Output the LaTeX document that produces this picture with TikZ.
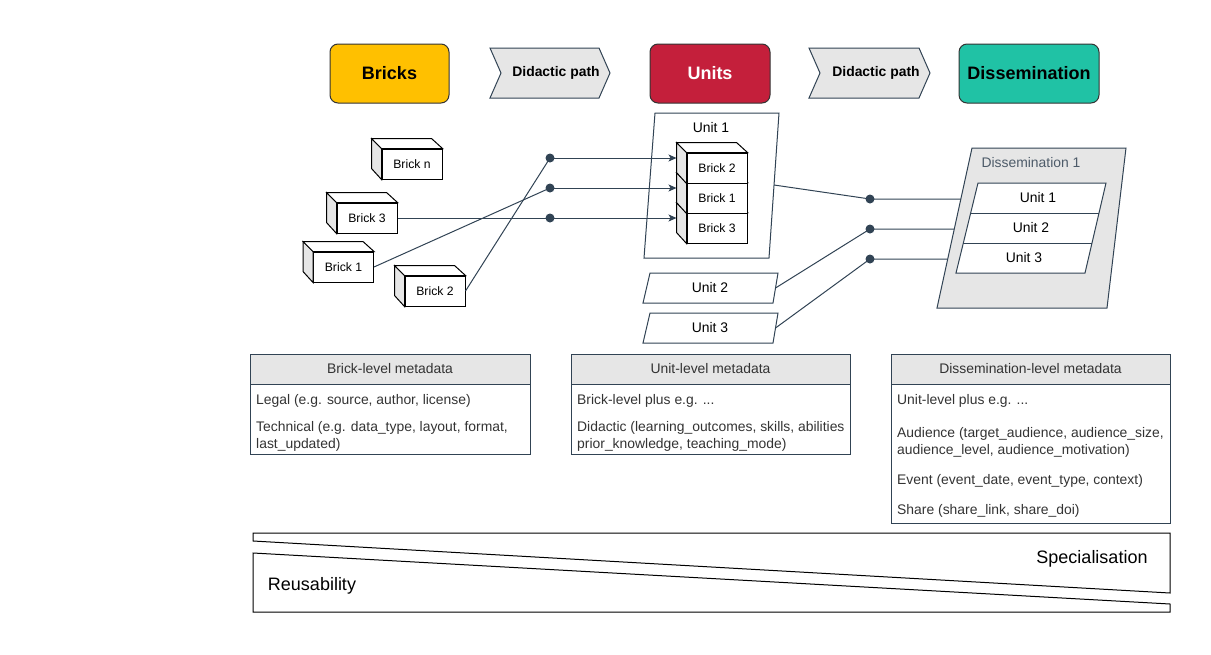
\documentclass[tikz,border=0pt]{standalone}
\usepackage{fontspec}
\setmainfont{Liberation Sans}
\usetikzlibrary{calc,arrows.meta}
\definecolor{slate}{HTML}{314354}
\definecolor{boxgray}{HTML}{E6E6E6}
\definecolor{sidegray}{HTML}{E6E6E6}
\definecolor{txtgray}{HTML}{333333}
\definecolor{brickyellow}{HTML}{FFC000}
\definecolor{unitred}{HTML}{C41F3B}
\definecolor{dissteal}{HTML}{20C2A5}
\definecolor{disstxt}{HTML}{4D5B69}
\tikzset{
  brickface/.style={draw=black, line width=1, fill=white, minimum width=60, minimum height=30, inner sep=0, font=\fontsize{12.2}{14}\selectfont},
  brickline/.style={draw=black, line width=1},
  headbox/.style={draw=black!80, line width=1, rounded corners=8, minimum width=119, minimum height=59, inner sep=0, font=\bfseries\fontsize{18}{21}\selectfont},
  chev/.style={draw=slate, line width=1, fill=boxgray},
  chevtxt/.style={font=\bfseries\fontsize{13.9}{16}\selectfont, inner sep=0},
  conn/.style={draw=slate, line width=1},
  dot/.style={circle, fill=slate, inner sep=0, minimum size=9},
  utxt/.style={font=\fontsize{13.9}{16}\selectfont, inner sep=0},
  mtxt/.style={font=\fontsize{13.9}{16}\selectfont, text=txtgray, inner sep=0, anchor=base west},
  mhead/.style={font=\fontsize{13.9}{16}\selectfont, text=txtgray, inner sep=0},
  mbox/.style={draw=slate, line width=1},
  bigtxt/.style={font=\fontsize{18}{21}\selectfont, inner sep=0},
}
\newcommand{\mybrick}[4]{%
  \node[brickface] (#1) at (#2,#3) {#4};
  \draw[brickline,fill=sidegray] (#1.north west) -- ++(-10,-10) -- ++(0,30) -- (#1.south west) -- cycle;
  \draw[brickline,fill=white] (#1.north west) -- ++(-10,-10) -- ++(60,0) -- (#1.north east) -- cycle;
  \coordinate (#1side) at ($(#1.west)+(-10,-10)$);
}
\begin{document}
\begin{tikzpicture}[x=1pt,y=-1pt]
\useasboundingbox (0,0) rectangle (1211,654);

% header row
\node[headbox, fill=brickyellow] (hbricks) at (389.5,73.5) {Bricks};
\node[headbox, fill=unitred, text=white, minimum width=120] (hunits) at (710,73.5) {Units};
\node[headbox, fill=dissteal, minimum width=140] (hdiss) at (1029,73.5) {Dissemination};
\draw[chev] (490,48) -- (599,48) -- (610,73) -- (599,98) -- (490,98) -- (501,73) -- cycle;
\node[chevtxt] (chev1) at (556,73) {Didactic path};
\draw[chev] (809,48) -- (919,48) -- (930,73) -- (919,98) -- (809,98) -- (820,73) -- cycle;
\node[chevtxt] (chev2) at (876,73) {Didactic path};

% loose bricks
\mybrick{bn}{412}{164}{Brick n}
\mybrick{bthree}{367}{218}{Brick 3}
\mybrick{bone}{343.5}{267}{Brick 1}
\mybrick{btwo}{435}{291}{Brick 2}

% unit 1 container
\draw[mbox, fill=white] (655,113) -- (779,113) -- (769,258) -- (644,258) -- cycle;
\node[utxt] (u1label) at (711,128) {Unit 1};
\coordinate (u1r) at (774,185);
\mybrick{sthree}{717}{228}{Brick 3}
\mybrick{sone}{717}{198}{Brick 1}
\mybrick{stwo}{717}{168}{Brick 2}

% unit 2, 3
\draw[mbox, fill=white] (650,273) -- (778,273) -- (773,303) -- (643,303) -- cycle;
\node[utxt] (u2label) at (710,288) {Unit 2};
\coordinate (u2r) at (775.5,288);
\draw[mbox, fill=white] (650,313) -- (778,313) -- (773,343) -- (643,343) -- cycle;
\node[utxt] (u3label) at (710,328) {Unit 3};
\coordinate (u3r) at (775.5,328);

% dots brick -> unit
\node[dot] (d1) at (550,158) {};
\node[dot] (d2) at (550,188) {};
\node[dot] (d3) at (550,218) {};
\draw[conn] (btwo.east) -- (d1.center);
\draw[conn] (bone.east) -- (d2.center);
\draw[conn] (bthree.east) -- (d3.center);
\draw[conn, -{Stealth[length=8,width=7,inset=2]}] (d1.center) -- (stwoside);
\draw[conn, -{Stealth[length=8,width=7,inset=2]}] (d2.center) -- (soneside);
\draw[conn, -{Stealth[length=8,width=7,inset=2]}] (d3.center) -- (sthreeside);

% dissemination container
\draw[mbox, fill=boxgray] (972,148) -- (1126,148) -- (1107,308) -- (937,308) -- cycle;
\node[font=\fontsize{13.9}{16}\selectfont, text=disstxt, inner sep=0] (dlabel) at (1031,163) {Dissemination 1};
\draw[mbox, fill=white] (978,183) -- (1106,183) -- (1085,273) -- (956,273) -- cycle;
\draw[mbox] (970.7,213) -- (1099,213);
\draw[mbox] (963.3,243) -- (1092,243);
\node[utxt] (du1) at (1038,198) {Unit 1};
\node[utxt] (du2) at (1031,228) {Unit 2};
\node[utxt] (du3) at (1024,258) {Unit 3};
\coordinate (de1) at (960.8,199);
\coordinate (de2) at (954.3,229);
\coordinate (de3) at (947.7,259);

\node[dot] (e1) at (870,199) {};
\node[dot] (e2) at (870,229) {};
\node[dot] (e3) at (870,259) {};
\draw[conn] (u1r) -- (e1.center) -- (de1);
\draw[conn] (u2r) -- (e2.center) -- (de2);
\draw[conn] (u3r) -- (e3.center) -- (de3);

% metadata boxes
\draw[mbox, fill=boxgray] (250,354) rectangle (530,384);
\draw[mbox] (250,384) rectangle (530,454);
\node[mhead] (mh1) at (390,369) {Brick-level metadata};
\node[mtxt] (m11) at (256,404.8) {Legal (e.g. source, author, license)};
\node[mtxt] (m12) at (256,431.8) {Technical (e.g. data\_type, layout, format,};
\node[mtxt] (m13) at (256,448.8) {last\_updated)};

\draw[mbox, fill=boxgray] (571,354) rectangle (850,384);
\draw[mbox] (571,384) rectangle (850,454);
\node[mhead] (mh2) at (710.5,369) {Unit-level metadata};
\node[mtxt] (m21) at (577,404.8) {Brick-level plus e.g. ...};
\node[mtxt] (m22) at (577,431.8) {Didactic (learning\_outcomes, skills, abilities};
\node[mtxt] (m23) at (577,448.8) {prior\_knowledge, teaching\_mode)};

\draw[mbox, fill=boxgray] (891,354) rectangle (1170,384);
\draw[mbox] (891,384) rectangle (1170,523);
\node[mhead] (mh3) at (1030.5,369) {Dissemination-level metadata};
\node[mtxt] (m31) at (897,404.8) {Unit-level plus e.g. ...};
\node[mtxt] (m32) at (897,437.8) {Audience (target\_audience, audience\_size,};
\node[mtxt] (m33) at (897,454.8) {audience\_level, audience\_motivation)};
\node[mtxt] (m34) at (897,484.8) {Event (event\_date, event\_type, context)};
\node[mtxt] (m35) at (897,514.8) {Share (share\_link, share\_doi)};

% bottom wedges
\draw[line width=1, fill=white] (253,533) -- (1170,533) -- (1170,593) -- (253,541) -- cycle;
\draw[line width=1, fill=white] (253,553) -- (1170,604) -- (1170,612) -- (253,612) -- cycle;
\node[bigtxt] (spec) at (1092,559) {Specialisation};
\node[bigtxt] (reuse) at (312,586) {Reusability};
\end{tikzpicture}
\end{document}
